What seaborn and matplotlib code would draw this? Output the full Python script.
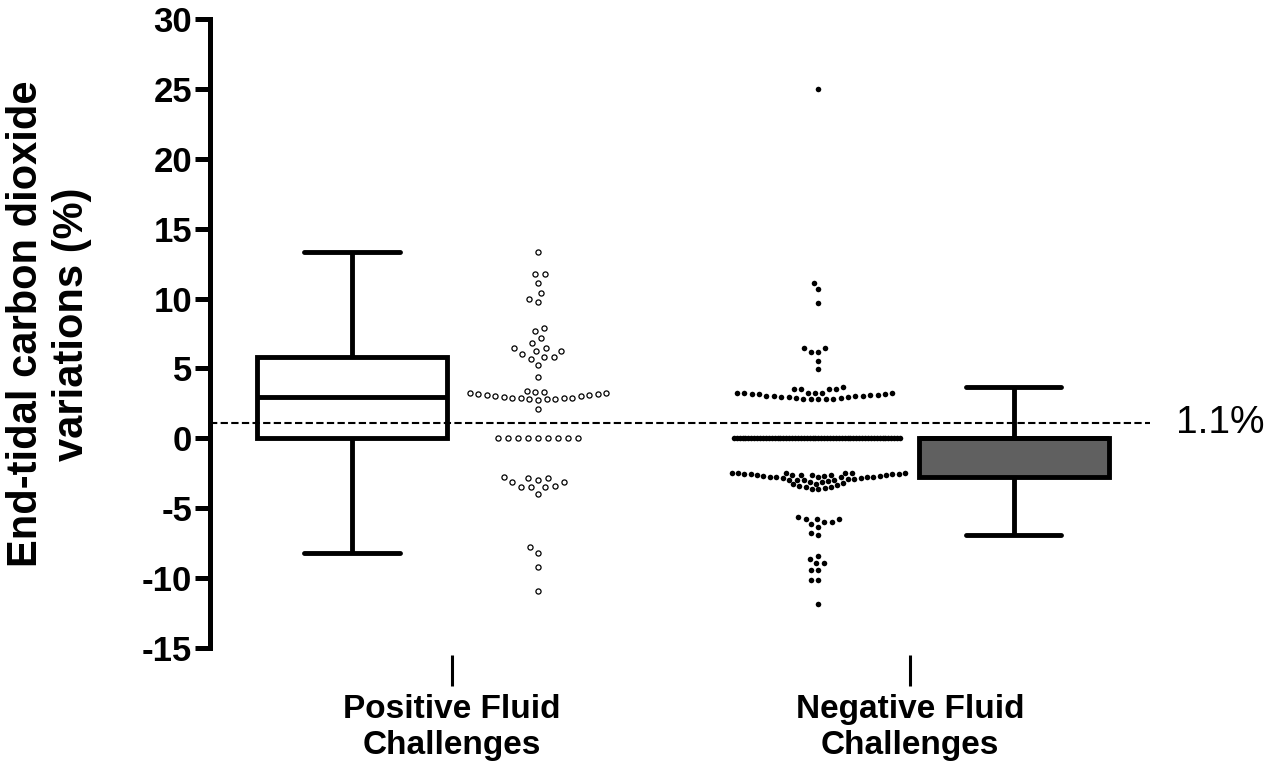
import matplotlib
matplotlib.use("Agg")
import matplotlib.pyplot as plt
import pandas as pd
import seaborn as sns

# End-tidal CO2 variations (%)
# Positive fluid challenges (open circles)
pos_high = [13.3, 11.75, 11.75, 11.1, 10.4, 10.0, 9.75]
pos_mid = [7.9, 7.7, 7.15, 6.85, 6.45, 6.45, 6.25, 6.25, 6.05, 5.8, 5.8, 5.7, 5.25, 4.4]
pos_row = [2.75, 2.78, 2.8, 2.82, 2.85, 2.88, 2.9, 2.92, 2.95, 3.0,
           3.05, 3.1, 3.12, 3.15, 3.2, 3.22, 3.25, 3.3, 3.35, 3.4, 2.1]
pos_zero = [0.0, 0.0, 0.0, 0.0, 0.0, 0.0, 0.0, 0.0, 0.0]
pos_cluster = [-2.75, -2.85, -2.85, -3.0, -3.15, -3.15, -3.4, -3.5, -3.5, -3.5, -3.95]
pos_low = [-7.8, -8.2, -9.2, -10.9]

# Negative fluid challenges (filled dots)
neg_high = [25.0, 11.1, 10.7, 9.7, 6.45, 6.45, 6.2, 6.2, 5.55, 4.95]
neg_upper = [3.5, 3.5, 3.5, 3.55, 3.65]
neg_row = [2.8, 2.81, 2.82, 2.83, 2.84, 2.9, 2.92, 2.94, 2.96, 2.98, 3.0, 3.02, 3.04,
           3.06, 3.08, 3.1, 3.15, 3.17, 3.19, 3.21, 3.23, 3.24, 3.25, 3.26, 3.27]
neg_zero = [0.0] * 58  # the solid bar at 0 is a pile of overlapping zeros
neg_cluster = [-3.65, -3.6, -3.55, -3.5, -3.45, -3.4, -3.35, -3.3, -3.25, -3.2,
               -3.15, -3.1, -3.05, -3.0, -3.0, -2.95, -2.95, -2.9, -2.9, -2.85,
               -2.85, -2.8, -2.8, -2.8, -2.75, -2.75, -2.75, -2.7, -2.7, -2.7,
               -2.65, -2.65, -2.65, -2.6, -2.6, -2.6, -2.55, -2.55, -2.55, -2.55,
               -2.5, -2.5, -2.5, -2.5, -2.5, -2.5]
neg_low = [-5.65, -5.8, -6.0, -6.15, -6.35, -6.0, -5.8, -5.8, -6.75, -6.95,
           -8.45, -8.65, -8.95, -8.95, -9.45, -9.45, -10.15, -10.15, -11.85]

positive = pos_high + pos_mid + pos_row + pos_zero + pos_cluster + pos_low
negative = neg_high + neg_upper + neg_row + neg_zero + neg_cluster + neg_low

categories = ["Positive Fluid\nChallenges", "Negative Fluid\nChallenges"]
threshold = 1.1

sns.set_theme(style="ticks")
plt.rcParams["font.family"] = ["Liberation Sans", "DejaVu Sans"]
plt.rcParams["axes.unicode_minus"] = False
plt.rcParams["text.color"] = "black"
plt.rcParams["axes.labelcolor"] = "black"
plt.rcParams["xtick.color"] = "black"
plt.rcParams["ytick.color"] = "black"

fig = plt.figure(figsize=(12.71, 7.74), dpi=100)
ax = fig.add_axes([210 / 1271, 126 / 774, 940 / 1271, 629 / 774])


def box(values, pos, fill):
    df = pd.DataFrame({"pos": [pos] * len(values), "value": values})
    sns.boxplot(data=df, x="pos", y="value", native_scale=True, orient="x",
                width=0.415, color=fill, saturation=1, linewidth=3.5,
                linecolor="black", showfliers=False, whis=1.5, ax=ax)


layouts = []


def swarm(values, pos, layout_size, dot_size, **kws):
    # swarm laid out with one marker size, then drawn with another
    df = pd.DataFrame({"pos": [pos] * len(values), "value": values})
    sns.swarmplot(data=df, x="pos", y="value", native_scale=True, orient="x",
                  size=layout_size, zorder=4, ax=ax, **kws)
    layouts.append((ax.collections[-1], dot_size))


box(positive, -0.218, "white")
box(negative, 1.227, "#606060")

open_dot = dict(color="white", edgecolor="black", linewidth=0.9)
swarm(pos_high + pos_mid + pos_zero + pos_cluster + pos_low, 0.188, 5.9, 3.7, **open_dot)
swarm(pos_row, 0.188, 5.0, 3.7, **open_dot)

swarm(neg_high + neg_upper + neg_row, 0.80, 5.1, 4.0, color="black", linewidth=0)
swarm(neg_zero, 0.80, 2.0, 4.0, color="black", linewidth=0)
swarm(neg_cluster, 0.80, 4.4, 4.0, color="black", linewidth=0)
swarm(neg_low, 0.80, 5.25, 4.0, color="black", linewidth=0)

ax.axhline(threshold, color="black", lw=1.5, ls=(0, (3.5, 1.6)), zorder=5)
ax.text(1.58, threshold, "1.1%", fontsize=28, va="center", ha="left", clip_on=False)

ax.spines[["top", "right"]].set_visible(False)
ax.spines["left"].set_linewidth(3.6)
ax.spines["left"].set_color("black")
ax.spines["bottom"].set_position(("outward", 5))
ax.spines["bottom"].set_visible(False)

ax.set_ylim(-15, 30)
ax.set_yticks(range(-15, 31, 5))
ax.set_xlim(-0.528, 1.524)
ax.set_xticks([0, 1], categories, fontweight="bold")
ax.set_xlabel("")
ax.set_ylabel("End-tidal carbon dioxide\nvariations (%)", fontsize=30, fontweight="bold")
ax.yaxis.set_label_coords(-0.125, 0.515)

ax.tick_params(axis="y", length=10.8, width=3.6, labelsize=25, pad=2)
ax.tick_params(axis="x", length=22, width=2.2, labelsize=24, pad=6)
for lab in ax.get_xticklabels() + ax.get_yticklabels():
    lab.set_fontweight("bold")

# lay the swarms out once, then freeze positions and shrink the markers
fig.canvas.draw()
for coll, s in layouts:
    del coll.draw
    coll.set_sizes([s ** 2])

fig.savefig("out.png", dpi=100)
